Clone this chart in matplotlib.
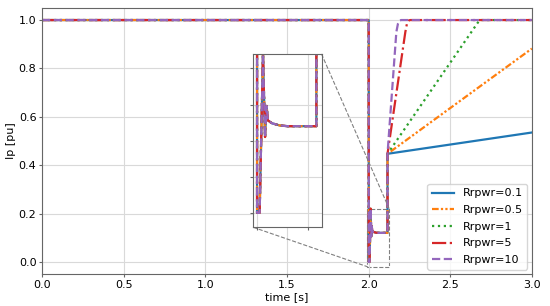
import matplotlib
matplotlib.use('Agg')
import matplotlib.pyplot as plt
from mpl_toolkits.axes_grid1.inset_locator import mark_inset

# =============================================
# DATOS
# =============================================
# Tramo común: falla en t=2.0 s, oscilación y recuperación a 0.447 pu
t_common = [0.0, 2.001, 2.001, 2.006, 2.0125, 2.0165, 2.0195, 2.022, 2.03, 2.045, 2.06, 2.116, 2.116]
ip_common = [1.0, 1.0, 0.0, 0.0, 0.22, 0.105, 0.148, 0.128, 0.124, 0.121, 0.12, 0.12, 0.447]

# Rampa posterior para cada Rrpwr
t_r01 = [3.0]
ip_r01 = [0.535]
t_r05 = [3.0]
ip_r05 = [0.882]
t_r1 = [2.68, 3.0]
ip_r1 = [1.0, 1.0]
t_r5 = [2.225, 2.235, 2.245, 2.255, 3.0]
ip_r5 = [0.95, 0.985, 0.998, 1.0, 1.0]
t_r10 = [2.17, 2.18, 2.19, 2.2, 3.0]
ip_r10 = [0.95, 0.985, 0.998, 1.0, 1.0]

labels = ['Rrpwr=0.1', 'Rrpwr=0.5', 'Rrpwr=1', 'Rrpwr=5', 'Rrpwr=10']
series = [(t_r01, ip_r01), (t_r05, ip_r05), (t_r1, ip_r1), (t_r5, ip_r5), (t_r10, ip_r10)]
styles = ['-', (0, (3, 1, 1, 1, 1, 1)), ':', '-.', '--']
colors = ['C0', 'C1', 'C2', 'C3', 'C4']

plt.rcParams['font.size'] = 8

fig = plt.figure(figsize=(5.5, 3.06), dpi=100)
ax = fig.add_axes([0.0764, 0.1046, 0.8906, 0.8694])

for (tt, ii), ls, c, lab in zip(series, styles, colors, labels):
    ax.plot(t_common + tt, ip_common + ii, ls=ls, color=c, lw=1.6, label=lab)

ax.set_xlim(0, 3.0)
ax.set_ylim(-0.05, 1.05)
ax.tick_params(length=2.5, pad=1.5, color='0.4')
ax.set_xlabel('time [s]', labelpad=1.5)
ax.set_ylabel('Ip [pu]', labelpad=2)
ax.grid(True, color='0.85', lw=0.8)
ax.legend(loc='lower right', fontsize=8, borderaxespad=0.4, labelspacing=0.6)
for s in ax.spines.values():
    s.set_color('0.4')

# =============================================
# INSET (zoom en la falla)
# =============================================
axins = ax.inset_axes([0.431, 0.1756, 0.1396, 0.6515])
for (tt, ii), ls, c in zip(series, styles, colors):
    axins.plot(t_common + tt, ip_common + ii, ls=ls, color=c, lw=1.6)
axins.set_xlim(1.9934, 2.126)
axins.set_ylim(-0.02, 0.22)
axins.set_xticks([2.0, 2.1])
axins.set_yticks([0.0, 0.05, 0.1, 0.15, 0.2])
axins.set_xticklabels([])
axins.set_yticklabels([])
axins.tick_params(length=2.5, color='0.4')
axins.grid(True, color='0.85', lw=0.8)
for s in axins.spines.values():
    s.set_color('0.4')

mark_inset(ax, axins, loc1=1, loc2=3, fc='none', ec='0.5', ls='--', lw=0.8)

plt.savefig('out.png', dpi=100)
